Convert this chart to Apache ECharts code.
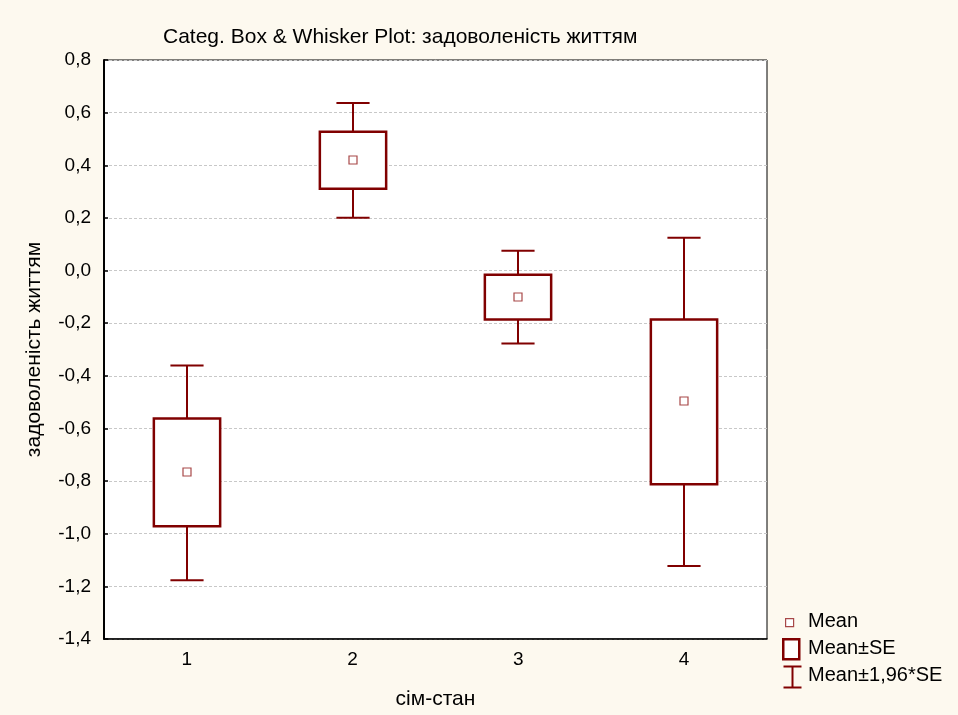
<!DOCTYPE html>
<html>
<head>
<meta charset="utf-8">
<script src="https://cdn.jsdelivr.net/npm/echarts@6/dist/echarts.min.js"></script>
<style>
  html, body { margin: 0; padding: 0; background: #fdf9ef; }
  #chart { width: 958px; height: 715px; }
</style>
</head>
<body>
<div id="chart"></div>
<script>
// Family status groups and life-satisfaction statistics
const categories = ['1', '2', '3', '4'];
const means  = [-0.767, 0.421, -0.099, -0.494];
const seLow  = [-0.972, 0.311, -0.186, -0.812];
const seHigh = [-0.562, 0.527, -0.016, -0.186];
const ciLow  = [-1.177, 0.201, -0.277, -1.123];
const ciHigh = [-0.361, 0.637, 0.075, 0.125];
const yTicks = [-1.4, -1.2, -1.0, -0.8, -0.6, -0.4, -0.2, 0.0, 0.2, 0.4, 0.6, 0.8];

const DARK = '#800000';
const LIGHT = '#a84848';
const FONT = '"Liberation Sans", Arial, sans-serif';

const rows = categories.map((c, i) => [i, means[i], seLow[i], seHigh[i], ciLow[i], ciHigh[i]]);

function renderBox(params, api) {
  const x = api.value(0);
  const band = api.size([1, 0])[0];
  const boxW = band * 0.40;
  const capW = band * 0.20;
  const pMean = api.coord([x, api.value(1)]);
  const pSeLo = api.coord([x, api.value(2)]);
  const pSeHi = api.coord([x, api.value(3)]);
  const pCiLo = api.coord([x, api.value(4)]);
  const pCiHi = api.coord([x, api.value(5)]);
  const cx = Math.round(pMean[0]);
  const lineStyle = { stroke: DARK, lineWidth: 2, fill: null };
  return {
    type: 'group',
    children: [
      { type: 'line', shape: { x1: cx, y1: pCiHi[1], x2: cx, y2: pSeHi[1] }, style: lineStyle },
      { type: 'line', shape: { x1: cx, y1: pSeLo[1], x2: cx, y2: pCiLo[1] }, style: lineStyle },
      { type: 'line', shape: { x1: cx - capW / 2, y1: pCiHi[1], x2: cx + capW / 2, y2: pCiHi[1] }, style: lineStyle },
      { type: 'line', shape: { x1: cx - capW / 2, y1: pCiLo[1], x2: cx + capW / 2, y2: pCiLo[1] }, style: lineStyle },
      { type: 'rect', shape: { x: cx - boxW / 2, y: pSeHi[1], width: boxW, height: pSeLo[1] - pSeHi[1] },
        style: { fill: '#ffffff', stroke: DARK, lineWidth: 2.5 } },
      { type: 'rect', shape: { x: cx - 4, y: Math.round(pMean[1]) - 4, width: 8, height: 8 },
        style: { fill: '#ffffff', stroke: LIGHT, lineWidth: 1.2 } }
    ]
  };
}

const chart = echarts.init(document.getElementById('chart'), null, { renderer: 'canvas' });
chart.setOption({
  backgroundColor: '#fdf9ef',
  animation: false,
  title: {
    text: 'Categ. Box & Whisker Plot: задоволеність життям',
    left: 158, top: 22,
    textStyle: { fontFamily: FONT, fontSize: 21, fontWeight: 'normal', color: '#000' }
  },
  grid: {
    left: 104, right: 191, top: 60, bottom: 75,
    show: true, backgroundColor: '#ffffff', borderColor: '#000', borderWidth: 1
  },
  xAxis: {
    type: 'category',
    data: categories,
    name: 'сім-стан',
    nameLocation: 'middle',
    nameGap: 50,
    nameTextStyle: { fontFamily: FONT, fontSize: 21, color: '#000' },
    axisLine: { onZero: false, lineStyle: { color: '#000', width: 1.5 } },
    axisTick: { inside: true, alignWithLabel: true, length: 4, lineStyle: { color: '#000' } },
    axisLabel: { fontFamily: FONT, fontSize: 19, color: '#000', margin: 11 },
    splitLine: { show: false }
  },
  yAxis: {
    type: 'value',
    min: yTicks[0], max: yTicks[yTicks.length - 1], interval: 0.2,
    name: 'задоволеність життям',
    nameLocation: 'middle',
    nameGap: 59,
    nameTextStyle: { fontFamily: FONT, fontSize: 21, color: '#000' },
    axisLine: { show: true, lineStyle: { color: '#000', width: 2 } },
    axisTick: { show: true, inside: true, length: 4, lineStyle: { color: '#000', width: 1.5 } },
    axisLabel: {
      fontFamily: FONT, fontSize: 19, color: '#000', margin: 13,
      formatter: v => (Math.abs(v) < 1e-9 ? 0 : v).toFixed(1).replace('.', ',')
    },
    splitLine: { show: true, lineStyle: { color: '#c8c8c8', type: [3, 2], width: 1 } }
  },
  series: [{
    type: 'custom',
    name: 'box',
    renderItem: renderBox,
    encode: { x: 0, y: [1, 2, 3, 4, 5] },
    data: rows,
    z: 5
  }],
  graphic: [
    { type: 'rect', left: 785, top: 618, shape: { width: 8, height: 8 },
      style: { fill: '#fff', stroke: LIGHT, lineWidth: 1.2 } },
    { type: 'text', left: 808, top: 611, style: { text: 'Mean', font: '20px ' + FONT, fill: '#000' } },
    { type: 'rect', left: 782, top: 638, shape: { width: 16, height: 20 },
      style: { fill: '#fff', stroke: DARK, lineWidth: 2.5 } },
    { type: 'text', left: 808, top: 638, style: { text: 'Mean±SE', font: '20px ' + FONT, fill: '#000' } },
    { type: 'group', left: 781, top: 664, children: [
      { type: 'line', shape: { x1: 0, y1: 1, x2: 18, y2: 1 }, style: { stroke: DARK, lineWidth: 2 } },
      { type: 'line', shape: { x1: 9, y1: 1, x2: 9, y2: 22 }, style: { stroke: DARK, lineWidth: 2 } },
      { type: 'line', shape: { x1: 0, y1: 22, x2: 18, y2: 22 }, style: { stroke: DARK, lineWidth: 2 } }
    ] },
    { type: 'text', left: 808, top: 665, style: { text: 'Mean±1,96*SE', font: '20px ' + FONT, fill: '#000' } }
  ]
});
</script>
</body>
</html>
